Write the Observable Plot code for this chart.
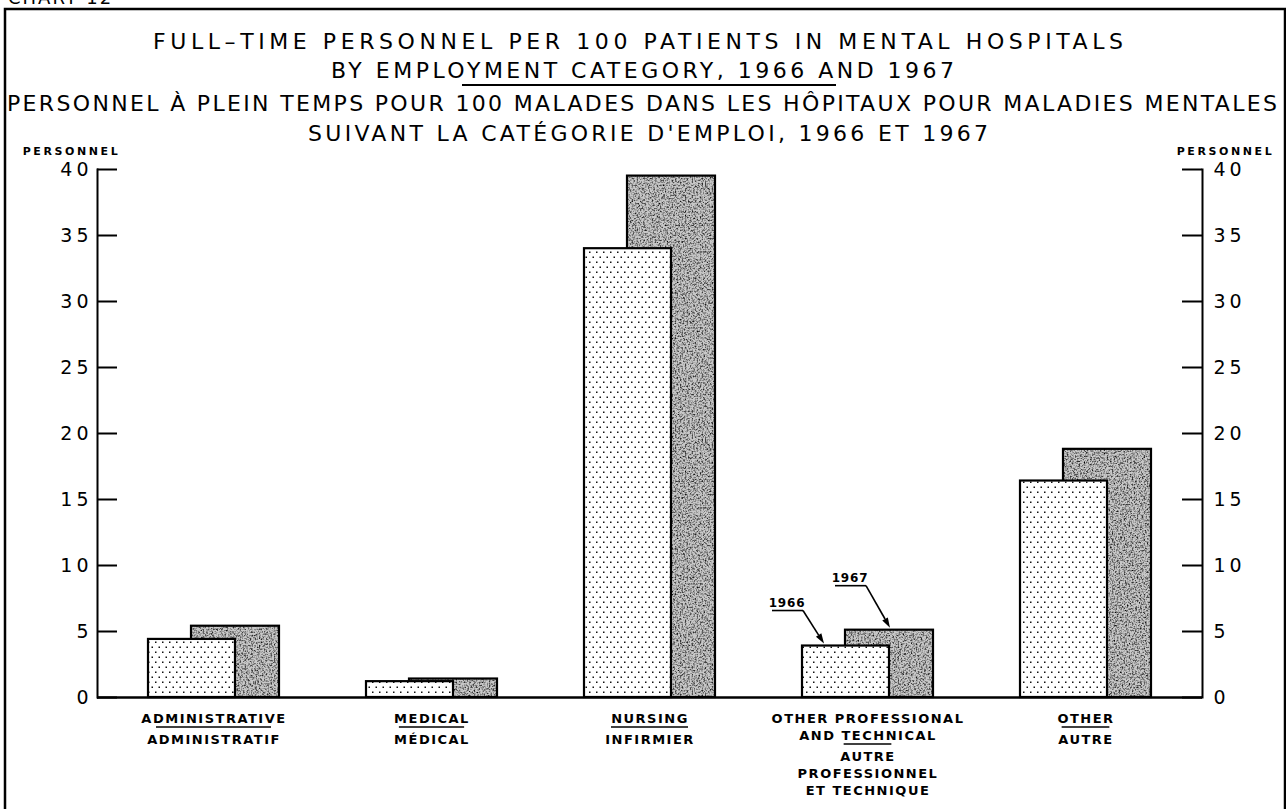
<!DOCTYPE html>
<html><head><meta charset="utf-8">
<script src="https://cdn.jsdelivr.net/npm/d3@7"></script>
<script src="https://cdn.jsdelivr.net/npm/@observablehq/plot@0.6"></script>
<style>html,body{margin:0;padding:0;background:#fff;overflow:hidden} svg{display:block}</style>
</head><body>
<script>
// ---- data ----
const categories = ["ADMINISTRATIVE", "MEDICAL", "NURSING", "OTHER PROFESSIONAL AND TECHNICAL", "OTHER"];
const labelsEn = [["ADMINISTRATIVE"], ["MEDICAL"], ["NURSING"], ["OTHER PROFESSIONAL", "AND TECHNICAL"], ["OTHER"]];
const labelsFr = [["ADMINISTRATIF"], ["MÉDICAL"], ["INFIRMIER"], ["AUTRE", "PROFESSIONNEL", "ET TECHNIQUE"], ["AUTRE"]];
const years = ["1966", "1967"];
const values1966 = [4.4, 1.2, 34.0, 3.9, 16.4];
const values1967 = [5.4, 1.4, 39.5, 5.1, 18.8];
const yTicks = [0, 5, 10, 15, 20, 25, 30, 35, 40];
const titleLines = [
  "FULL–TIME PERSONNEL PER 100 PATIENTS IN MENTAL HOSPITALS",
  "BY EMPLOYMENT CATEGORY, 1966 AND 1967",
  "PERSONNEL À PLEIN TEMPS POUR 100 MALADES DANS LES HÔPITAUX POUR MALADIES MENTALES",
  "SUIVANT LA CATÉGORIE D'EMPLOI, 1966 ET 1967"
];
const unitLabel = "PERSONNEL";
const chartNumber = "CHART 12";
const annotatedCategory = "OTHER PROFESSIONAL AND TECHNICAL";

// ---- tables ----
const rows = categories.flatMap((c, i) => [
  {category: c, year: years[0], value: values1966[i]},
  {category: c, year: years[1], value: values1967[i]}
]);
const labelRows = categories.map((c, i) => ({category: c, en: labelsEn[i], fr: labelsFr[i]}));

// ---- layout ----
const W = 1286, H = 809;
const M = {top: 169, right: 84, bottom: 112, left: 97};
const frameW = W - M.left - M.right;
const font = "'DejaVu Sans', sans-serif";
const lh = 17;
const enDy = 13;
const frGap = 4;
const labelSize = 13, labelSpacing = 1.5;

const plot = Plot.plot({
  width: W, height: H,
  marginTop: M.top, marginRight: M.right, marginBottom: M.bottom, marginLeft: M.left,
  style: {fontFamily: font, background: "#fff", color: "#000", overflow: "visible"},
  x: {domain: categories, paddingInner: 0.4, paddingOuter: 0.231, align: 0.5, axis: null},
  y: {domain: [0, 40]},
  marks: [
    Plot.barY(rows.filter(d => d.year === "1967"), {x: "category", y: "value", fill: "url(#gray1967)", stroke: "#000", strokeWidth: 2.2, insetLeft: 43}),
    Plot.barY(rows.filter(d => d.year === "1966"), {x: "category", y: "value", fill: "url(#dots1966)", stroke: "#000", strokeWidth: 2.2, insetRight: 44}),
    Plot.ruleY([0], {strokeWidth: 2.6}),
    Plot.frame({anchor: "left", strokeWidth: 2}),
    Plot.frame({anchor: "right", strokeWidth: 2}),
    Plot.tickY(yTicks, {y: d => d, insetRight: frameW - 20, strokeWidth: 2}),
    Plot.tickY(yTicks, {y: d => d, insetLeft: frameW - 20, strokeWidth: 2}),
    Plot.axisY({anchor: "left", ticks: yTicks, tickSize: 0, tickPadding: 5, fontSize: 19, label: null, tickFormat: d => String(d)}),
    Plot.axisY({anchor: "right", ticks: yTicks, tickSize: 0, tickPadding: 11, fontSize: 19, label: null, tickFormat: d => String(d)}),
    Plot.text([unitLabel], {frameAnchor: "top-left", dx: -26, dy: -22, textAnchor: "middle", fontSize: 11, fontWeight: "bold"}),
    Plot.text([unitLabel], {frameAnchor: "top-right", dx: 23, dy: -22, textAnchor: "middle", fontSize: 11, fontWeight: "bold"}),
    Plot.text(labelRows, {x: "category", y: () => 0, text: d => d.en.join("\n"), dy: enDy, lineAnchor: "top", fontSize: labelSize, fontWeight: "bold", lineHeight: lh / labelSize}),
    ...[1, 2].map(n => Plot.text(labelRows.filter(d => d.en.length === n), {
      x: "category", y: () => 0, text: d => d.fr.join("\n"), dy: enDy + n * lh + frGap,
      lineAnchor: "top", fontSize: labelSize, fontWeight: "bold", lineHeight: lh / labelSize
    }))
  ]
});

document.body.append(plot);
const svg = d3.select(plot);
const xs = plot.scale("x"), ys = plot.scale("y");

// patterns
const defs = svg.insert("defs", ":first-child");
const dots = defs.append("pattern").attr("id", "dots1966").attr("patternUnits", "userSpaceOnUse").attr("width", 7).attr("height", 10);
dots.append("rect").attr("width", 7).attr("height", 10).attr("fill", "#fff");
dots.append("rect").attr("x", 1).attr("y", 1.5).attr("width", 1.5).attr("height", 1.5).attr("fill", "#111");
dots.append("rect").attr("x", 4.5).attr("y", 6.5).attr("width", 1.5).attr("height", 1.5).attr("fill", "#111");
const filt = defs.append("filter").attr("id", "grain").attr("x", 0).attr("y", 0).attr("width", "100%").attr("height", "100%");
filt.append("feTurbulence").attr("type", "fractalNoise").attr("baseFrequency", 0.6).attr("numOctaves", 3).attr("seed", 4);
filt.append("feColorMatrix").attr("type", "matrix").attr("values", "0 0 0 0 0  0 0 0 0 0  0 0 0 0 0  2.2 0 0 0 -0.95");
const gray = defs.append("pattern").attr("id", "gray1967").attr("patternUnits", "userSpaceOnUse").attr("width", 256).attr("height", 256);
gray.append("rect").attr("width", 256).attr("height", 256).attr("fill", "#c8c8c8");
gray.append("rect").attr("width", 256).attr("height", 256).attr("fill", "#000").attr("filter", "url(#grain)");

// letter spacing by font size
svg.selectAll("text").each(function() {
  const fs = parseFloat(getComputedStyle(this).fontSize);
  if (fs === 19) this.setAttribute("letter-spacing", 4);
  else if (fs === 11) this.setAttribute("letter-spacing", 2.6);
  else if (fs === labelSize) this.setAttribute("letter-spacing", labelSpacing);
});

// underlines between English and French labels
const y0 = ys.apply(0);
labelRows.forEach(d => {
  const t = svg.append("text").attr("font-family", font).attr("font-size", labelSize).attr("font-weight", "bold")
    .attr("letter-spacing", labelSpacing).text(d.fr[0]);
  const w = t.node().getComputedTextLength();
  t.remove();
  const cx = xs.apply(d.category) + xs.bandwidth / 2;
  const uy = y0 + enDy + d.en.length * lh + frGap - 4;
  svg.append("line").attr("x1", cx - w * 0.43).attr("x2", cx + w * 0.43).attr("y1", uy).attr("y2", uy)
    .attr("stroke", "#000").attr("stroke-width", 1.6);
});

// titles
const titleSpecs = [
  {x: 153, y: 49, len: 970},
  {x: 331, y: 78, len: 623},
  {x: 7, y: 111, len: 1270},
  {x: 308, y: 141, len: 680}
];
titleLines.forEach((s, i) => {
  const p = titleSpecs[i];
  svg.append("text").attr("x", p.x).attr("y", p.y).attr("text-anchor", "start").attr("font-family", font).attr("font-size", 22)
    .attr("textLength", p.len).attr("lengthAdjust", "spacing").attr("fill", "#000").text(s);
});
svg.append("line").attr("x1", 462).attr("x2", 836).attr("y1", 85).attr("y2", 85).attr("stroke", "#000").attr("stroke-width", 1.8);

// chart number (cut off at top)
svg.append("text").attr("x", 8).attr("y", 4).attr("text-anchor", "start").attr("font-family", font).attr("font-size", 18).attr("letter-spacing", 2).text(chartNumber);

// border
svg.append("rect").attr("x", 5).attr("y", 9).attr("width", W - 6).attr("height", H + 10)
  .attr("fill", "none").attr("stroke", "#000").attr("stroke-width", 2.5);

// year annotations with arrows
function arrow(label, tipX, tipY, ddx, ddy) {
  const ex = tipX + ddx, ey = tipY + ddy;
  svg.append("line").attr("x1", ex - 31).attr("x2", ex).attr("y1", ey).attr("y2", ey).attr("stroke", "#000").attr("stroke-width", 1.6);
  const ang = Math.atan2(tipY - ey, tipX - ex);
  const L = 10, hw = 3.2;
  const bx = tipX - L * Math.cos(ang), by = tipY - L * Math.sin(ang);
  svg.append("line").attr("x1", ex).attr("y1", ey).attr("x2", bx).attr("y2", by).attr("stroke", "#000").attr("stroke-width", 1.6);
  svg.append("path").attr("d", `M${tipX},${tipY}L${bx - hw * Math.sin(ang)},${by + hw * Math.cos(ang)}L${bx + hw * Math.sin(ang)},${by - hw * Math.cos(ang)}Z`).attr("fill", "#000");
  svg.append("text").attr("x", ex - 16).attr("y", ey - 4).attr("text-anchor", "middle").attr("font-family", font)
    .attr("font-size", 12).attr("font-weight", "bold").attr("letter-spacing", 0.8).text(label);
}
const ai = categories.indexOf(annotatedCategory);
const bandStart = xs.apply(annotatedCategory);
arrow(years[0], bandStart + 22, ys.apply(values1966[ai]) - 2, -21, -33);
arrow(years[1], bandStart + 88, ys.apply(values1967[ai]) - 2, -24, -42);
</script>
</body></html>
